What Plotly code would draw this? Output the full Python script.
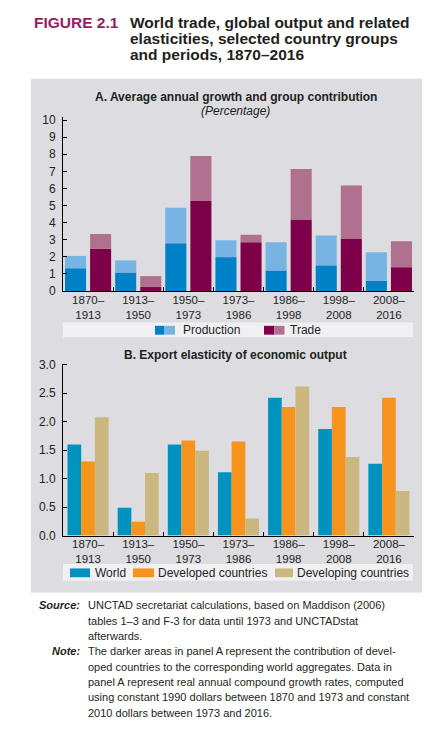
import plotly.graph_objects as go

# ---------------- data ----------------
periods = ["1870–1913", "1913–1950", "1950–1973", "1973–1986", "1986–1998", "1998–2008", "2008–2016"]
period_ticks = ["1870–<br>1913", "1913–<br>1950", "1950–<br>1973", "1973–<br>1986", "1986–<br>1998", "1998–<br>2008", "2008–<br>2016"]

# Panel A: average annual growth (%), world total and developed-country contribution
production_total = [2.05, 1.79, 4.87, 2.97, 2.85, 3.25, 2.26]
production_developed = [1.33, 1.08, 2.79, 1.98, 1.20, 1.50, 0.59]
trade_total = [3.33, 0.87, 7.89, 3.29, 7.13, 6.17, 2.91]
trade_developed = [2.47, 0.23, 5.26, 2.85, 4.18, 3.04, 1.39]

# Panel B: export elasticity of economic output
elast_world = [1.60, 0.49, 1.60, 1.11, 2.42, 1.87, 1.26]
elast_developed = [1.30, 0.24, 1.67, 1.65, 2.26, 2.26, 2.42]
elast_developing = [2.08, 1.10, 1.49, 0.30, 2.62, 1.38, 0.78]

yticks_a = list(range(0, 11))
yticks_b = [0.0, 0.5, 1.0, 1.5, 2.0, 2.5, 3.0]

# ---------------- styles ----------------
OFF = 8  # default page body margin
W, H = 434 - OFF, 736 - OFF
FONT = "Arial, Liberation Sans, Helvetica, sans-serif"
TXT = "#231f20"
C_PROD_D, C_PROD_L = "#0080c6", "#78b4e3"
C_TRADE_D, C_TRADE_L = "#7d0048", "#b0718f"
C_WORLD, C_DEVD, C_DEVG = "#0093bf", "#f7941d", "#cbb780"
PANEL_BG = "#dcdce1"
PLOT_BG = "#f0f0f3"


def fx(p):
    return (p - OFF) / W


def fy(p):
    return 1 - (p - OFF) / H


fig = go.Figure()

# ---- Panel A ----
pw, po_p, po_t = 0.42, -0.46, 0.04
prod_rest = [t - d for t, d in zip(production_total, production_developed)]
trade_rest = [t - d for t, d in zip(trade_total, trade_developed)]

fig.add_bar(x=periods, y=production_developed, width=pw, offset=po_p, marker_color=C_PROD_D,
            name="Production (developed)", xaxis="x", yaxis="y", showlegend=False)
fig.add_bar(x=periods, y=prod_rest, base=production_developed, width=pw, offset=po_p, marker_color=C_PROD_L,
            name="Production", xaxis="x", yaxis="y", showlegend=False)
fig.add_bar(x=periods, y=trade_developed, width=pw, offset=po_t, marker_color=C_TRADE_D,
            name="Trade (developed)", xaxis="x", yaxis="y", showlegend=False)
fig.add_bar(x=periods, y=trade_rest, base=trade_developed, width=pw, offset=po_t, marker_color=C_TRADE_L,
            name="Trade", xaxis="x", yaxis="y", showlegend=False)

# ---- Panel B ----
bw = 0.273
for vals, col, off, nm in [(elast_world, C_WORLD, -0.41, "World"),
                           (elast_developed, C_DEVD, -0.137, "Developed countries"),
                           (elast_developing, C_DEVG, 0.136, "Developing countries")]:
    fig.add_bar(x=periods, y=vals, width=bw, offset=off, marker_color=col, name=nm,
                xaxis="x2", yaxis="y2", showlegend=False)

for tr in fig.data:
    tr.marker.line.width = 0

axis_common = dict(showline=True, linecolor="black", linewidth=1, ticks="inside", ticklen=4,
                   tickcolor="black", showgrid=False, zeroline=False)
yfont = dict(family=FONT, size=12, color=TXT)
xfont = dict(family=FONT, size=11.5, color=TXT)

fig.update_layout(
    width=W, height=H, margin=dict(l=0, r=0, t=0, b=0),
    paper_bgcolor="white", plot_bgcolor=PLOT_BG, barmode="overlay", showlegend=False,
    font=dict(family=FONT, color=TXT),
    xaxis=dict(domain=[fx(63), fx(414)], anchor="y", type="category", tickmode="array",
               tickvals=periods, ticktext=period_ticks, tickson="boundaries",
               ticklabelstandoff=-2, tickfont=xfont, **axis_common),
    yaxis=dict(domain=[fy(290), fy(113)], anchor="x", range=[0, 10.17], tickvals=yticks_a,
               ticklabelstandoff=4, tickfont=yfont, **axis_common),
    xaxis2=dict(domain=[fx(63), fx(414)], anchor="y2", type="category", tickmode="array",
                tickvals=periods, ticktext=period_ticks, tickson="boundaries",
                ticklabelstandoff=-2, tickfont=xfont, **axis_common),
    yaxis2=dict(domain=[fy(539), fy(364)], anchor="x2", range=[0, 3.02], tickvals=yticks_b,
                tickformat=".1f", ticklabelstandoff=4, tickfont=yfont, **axis_common),
)

shapes = []
annos = []

# gray panel background
shapes.append(dict(type="rect", xref="paper", yref="paper", x0=fx(31), x1=fx(422), y0=fy(597), y1=fy(74),
                   fillcolor=PANEL_BG, line_width=0, layer="below"))
# legend boxes
for y0, y1 in [(322, 337), (568, 585)]:
    shapes.append(dict(type="rect", xref="paper", yref="paper", x0=fx(63), x1=fx(413), y0=fy(y1), y1=fy(y0),
                       fillcolor=PLOT_BG, line_width=0, layer="below"))


def swatch(x0, x1, y0, y1, col):
    shapes.append(dict(type="rect", xref="paper", yref="paper", x0=fx(x0), x1=fx(x1), y0=fy(y1), y1=fy(y0),
                       fillcolor=col, line_width=0))


def text(x, y, s, size=12, xanchor="left", bold=False, italic=False, color=TXT):
    if bold:
        s = "<b>" + s + "</b>"
    if italic:
        s = "<i>" + s + "</i>"
    annos.append(dict(xref="paper", yref="paper", x=fx(x), y=fy(y), text=s, showarrow=False,
                      xanchor=xanchor, yanchor="middle", font=dict(family=FONT, size=size, color=color)))


# legend A
swatch(155, 164.5, 325.5, 334.5, C_PROD_D)
swatch(164.5, 175, 325.5, 334.5, C_PROD_L)
text(181, 330, "Production")
swatch(264, 274.3, 325.5, 334.5, C_TRADE_D)
swatch(274.3, 284.5, 325.5, 334.5, C_TRADE_L)
text(288, 330, "Trade")

# legend B
swatch(70, 90, 572.5, 581.5, C_WORLD)
text(93, 577, "World")
swatch(133, 154, 572.5, 581.5, C_DEVD)
text(156, 577, "Developed countries")
swatch(275, 293, 572.5, 581.5, C_DEVG)
text(295, 577, "Developing countries")

# titles
text(32, 17, "FIGURE 2.1", size=15.5, bold=True, color="#9b1b66")
text(128, 17, "World trade, global output and related", size=15.5, bold=True)
text(128, 33, "elasticities, selected country groups", size=15.5, bold=True)
text(128, 49, "and periods, 1870–2016", size=15.5, bold=True)

text(236, 92, "A. Average annual growth and group contribution", size=12, bold=True, xanchor="center")
text(236, 107, "(Percentage)", size=12, italic=True, xanchor="center")
text(236, 355, "B. Export elasticity of economic output", size=12, bold=True, xanchor="center")

# source / note
text(82, 610, "Source:", size=11, bold=True, italic=True, xanchor="right")
text(82, 657, "Note:", size=11, bold=True, italic=True, xanchor="right")
src_lines = ["UNCTAD secretariat calculations, based on Maddison (2006)",
             "tables 1–3 and F-3 for data until 1973 and UNCTADstat",
             "afterwards."]
note_lines = ["The darker areas in panel A represent the contribution of devel-",
              "oped countries to the corresponding world aggregates. Data in",
              "panel A represent real annual compound growth rates, computed",
              "using constant 1990 dollars between 1870 and 1973 and constant",
              "2010 dollars between 1973 and 2016."]
for i, s in enumerate(src_lines):
    text(86, 610 + i * 15.6, s, size=11)
for i, s in enumerate(note_lines):
    text(86, 657 + i * 15.6, s, size=11)

fig.update_layout(shapes=shapes, annotations=annos)
fig.write_html("out.html")
